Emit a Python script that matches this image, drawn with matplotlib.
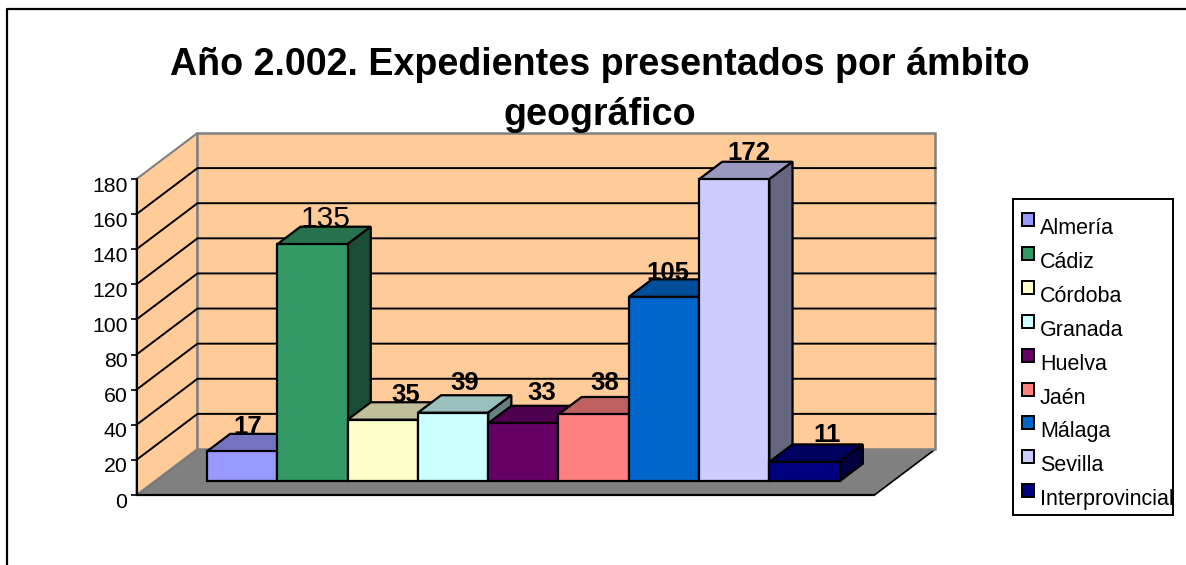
import matplotlib
matplotlib.use('Agg')
import matplotlib.pyplot as plt
from matplotlib.patches import Polygon, Rectangle
from matplotlib.lines import Line2D
from matplotlib.transforms import ScaledTranslation
import matplotlib.colors as mcolors

provincias = ["Almería", "Cádiz", "Córdoba", "Granada", "Huelva", "Jaén", "Málaga", "Sevilla", "Interprovincial"]
valores = [17, 135, 35, 39, 33, 38, 105, 172, 11]
colores = ["#9999FF", "#339966", "#FFFFCC", "#CCFFFF", "#660066", "#FF8080", "#0066CC", "#CCCCFF", "#000080"]
y_ticks = [0, 20, 40, 60, 80, 100, 120, 140, 160, 180]

# desplazamiento de cada etiqueta (pixeles) respecto al centro de la barra
label_dx = [5, 13, 23, 11, 18, 11, 4, 14, 22]
label_dy = [0, 0, 0, 5, 6, 7, -1, 2, 2]

W, H = 1186, 565
plt.rcParams['font.family'] = ['Liberation Sans', 'DejaVu Sans']

fig = plt.figure(figsize=(W / 100, H / 100), dpi=100)

# borde exterior
fig.add_artist(Line2D([7 / W, 7 / W, 1], [0, 1 - 9 / H, 1 - 9 / H], color='black', lw=1.6))

fig.text(600 / W, 1 - 90 / H, "Año 2.002. Expedientes presentados por ámbito\ngeográfico",
         ha='center', va='center', fontsize=27.1, fontweight='bold', linespacing=1.53)

ax = fig.add_axes([136.5 / W, 1 - 495 / H, 738 / W, 316 / H])
ax.set_xlim(-1.2425, 9.256)
ax.set_ylim(0, 180)
ax.patch.set_visible(False)

# vector de profundidad en unidades de datos
DX = 61 / 70.3
DY = 46 / 1.755
BAR_D0 = 0.3
BAR_D1 = 0.68


def proy(x, y, d):
    return x + d * DX, y + d * DY


def poligono(puntos, color, ec='black', lw=1.6, zorder=2):
    ax.add_patch(Polygon([proy(*p) for p in puntos], closed=True, facecolor=color,
                         edgecolor=ec, linewidth=lw, clip_on=False, zorder=zorder,
                         joinstyle='miter'))


def sombra(color, f):
    r, g, b = mcolors.to_rgb(color)
    return (r * f, g * f, b * f)


x0, x1 = ax.get_xlim()
y_max = y_ticks[-1]
pared = "#FFCC99"
gris = "#808080"

# suelo y paredes
poligono([(x0, 0, 0), (x1, 0, 0), (x1, 0, 1), (x0, 0, 1)], gris, ec='black', lw=1.2, zorder=1)
poligono([(x0, 0, 0), (x0, 0, 1), (x0, y_max, 1), (x0, y_max, 0)], pared, ec=gris, lw=1.5, zorder=1)
poligono([(x0, 0, 1), (x1, 0, 1), (x1, y_max, 1), (x0, y_max, 1)], pared, ec=gris, lw=1.8, zorder=1)

for v in y_ticks[1:-1]:
    px, py = zip(proy(x0, v, 0), proy(x0, v, 1), proy(x1, v, 1))
    ax.plot(px, py, color='black', lw=1.4, clip_on=False, zorder=1.5)

# barras de izquierda a derecha
for i, (v, c) in enumerate(zip(valores, colores)):
    a, b = i - 0.5, i + 0.5
    poligono([(a, v, BAR_D0), (b, v, BAR_D0), (b, v, BAR_D1), (a, v, BAR_D1)], sombra(c, 0.75))
    poligono([(b, 0, BAR_D0), (b, 0, BAR_D1), (b, v, BAR_D1), (b, v, BAR_D0)], sombra(c, 0.5))
    poligono([(a, 0, BAR_D0), (b, 0, BAR_D0), (b, v, BAR_D0), (a, v, BAR_D0)], c)

for i, v in enumerate(valores):
    es_normal = v == 135
    ax.annotate(str(v), xy=proy(i, v, BAR_D1), xycoords='data',
                xytext=(label_dx[i] - 23, label_dy[i]), textcoords='offset pixels',
                ha='center', va='baseline', annotation_clip=False, zorder=5,
                fontsize=21.5 if es_normal else 18.5, fontweight='normal' if es_normal else 'bold')

for lado in ['top', 'right']:
    ax.spines[lado].set_visible(False)
ax.spines['left'].set_zorder(6)
ax.spines['bottom'].set_zorder(6)
ax.spines['left'].set_linewidth(1.5)
ax.spines['bottom'].set_linewidth(1.6)
ax.set_xticks([])
ax.set_yticks(y_ticks)
ax.tick_params(axis='y', length=4.5, width=1.2, labelsize=15.3, pad=2)
# las cifras quedan un poco por debajo de la marca
bajar = ScaledTranslation(0, -5 / 100, fig.dpi_scale_trans)
for t in ax.get_yticklabels():
    t.set_transform(t.get_transform() + bajar)

# leyenda
leg = fig.add_axes([1013 / W, 1 - 515 / H, 160 / W, 316 / H])
leg.set_xlim(0, 160)
leg.set_ylim(316, 0)
leg.set_xticks([])
leg.set_yticks([])
for s in leg.spines.values():
    s.set_linewidth(1.4)
for i, (nombre, c) in enumerate(zip(provincias, colores)):
    fila = 14 + i * 33.9
    leg.add_patch(Rectangle((8.5, fila), 12, 13, facecolor=c, edgecolor='black', linewidth=1.4))
    leg.text(27, fila + 21, nombre, fontsize=15.5, ha='left', va='baseline')

fig.savefig('out.png', dpi=100)
